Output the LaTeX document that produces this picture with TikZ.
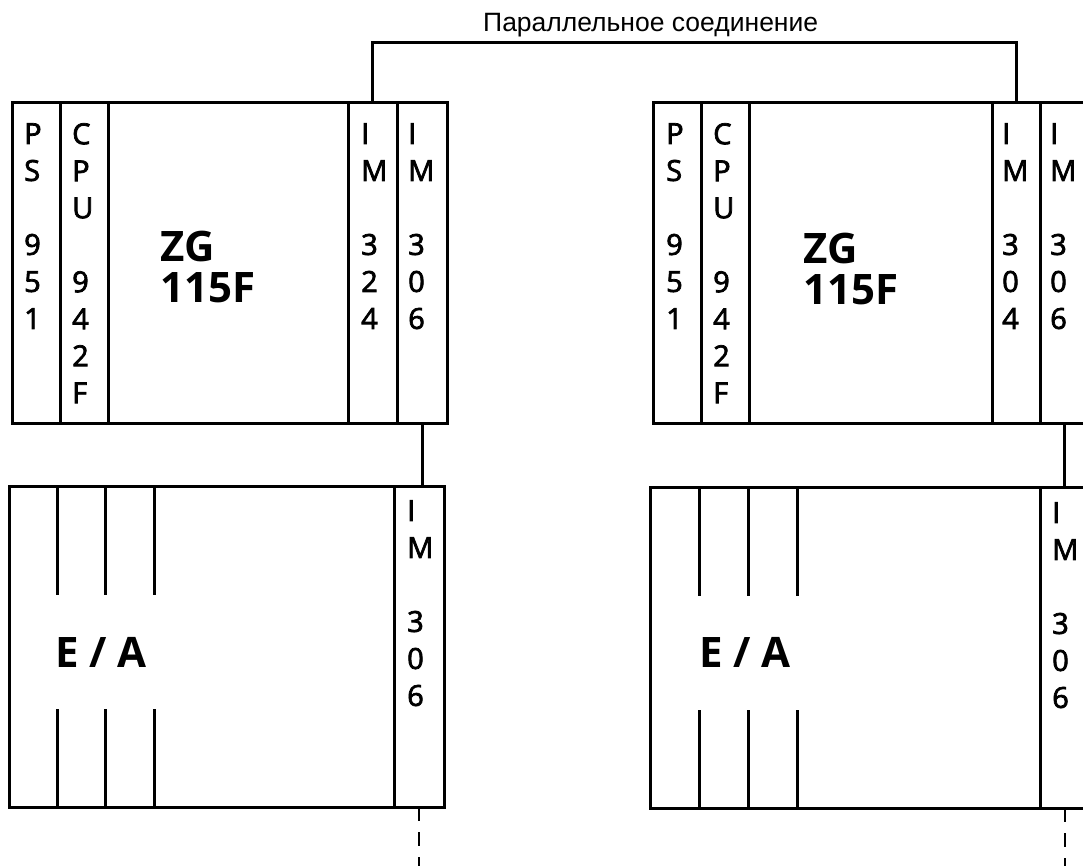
\documentclass[tikz,border=0pt]{standalone}
\usepackage{fontspec}
\setmainfont{Liberation Sans}
\newfontfamily\modfont[FakeBold=2.5]{Open Sans}
\newfontfamily\namefont{Open Sans}
\usepackage{tikz}
\usetikzlibrary{positioning,calc}
\definecolor{ink}{HTML}{000000}
\tikzset{
  slot/.style={
    rectangle,
    draw=ink,
    line width=3pt,
    inner sep=0pt,
    outer sep=0pt,
    minimum height=320pt
  },
  ioslot/.style={slot, minimum height=321pt},
  modlabel/.style={
    font=\modfont\fontsize{29}{37}\selectfont,
    align=left,
    anchor=north west,
    inner sep=0pt,
    text=ink
  },
  rackname/.style={
    font=\namefont\bfseries\fontsize{42}{41}\selectfont,
    align=left,
    anchor=north west,
    inner sep=0pt,
    text=ink
  },
  link/.style={draw=ink, line width=3pt},
  extlink/.style={link, line width=2.6pt, dash pattern=on 14pt off 11pt}
}

\begin{document}
\begin{tikzpicture}[x=1pt, y=-1pt]
\useasboundingbox (0,0) rectangle (1083,866);
\clip (0,0) rectangle (1083,866);

% ---- Left central rack ----
\node[slot, minimum width=48pt, anchor=north west] (psL) at (12,103) {};
\node[slot, minimum width=48pt, right=0pt of psL] (cpuL) {};
\node[slot, minimum width=240pt, right=0pt of cpuL] (zgL) {};
\node[slot, minimum width=49pt, right=0pt of zgL] (imaL) {};
\node[slot, minimum width=50pt, right=0pt of imaL] (imbL) {};

\node[modlabel] (psLtxt) at ($(psL.north west)+(12,20)$) {P\\S\\[37pt]9\\5\\1};
\node[modlabel] (cpuLtxt) at ($(cpuL.north west)+(12,20)$) {C\\P\\U\\[37pt]9\\4\\2\\F};
\node[rackname] (zgLtxt) at ($(zgL.north west)+(52,128)$) {ZG\\115F};
\node[modlabel] (imaLtxt) at ($(imaL.north west)+(13,20)$) {I\\M\\[37pt]3\\2\\4};
\node[modlabel] (imbLtxt) at ($(imbL.north west)+(11,20)$) {I\\M\\[37pt]3\\0\\6};

% ---- Left I/O rack ----
\node[ioslot, minimum width=385pt, anchor=north west] (eaL) at (9,486) {};
\node[ioslot, minimum width=50pt, right=0pt of eaL] (imcL) {};

\draw[link] ($(eaL.north west)+(48,0)$) -- ++(0,109);
\draw[link] ($(eaL.north west)+(96,0)$) -- ++(0,109);
\draw[link] ($(eaL.north west)+(145,0)$) -- ++(0,109);
\draw[link] ($(eaL.south west)+(48,0)$) -- ++(0,-98);
\draw[link] ($(eaL.south west)+(96,0)$) -- ++(0,-98);
\draw[link] ($(eaL.south west)+(145,0)$) -- ++(0,-98);

\node[rackname, anchor=base west] (eaLtxt) at (55,667) {E / A};
\node[modlabel] (imcLtxt) at ($(imcL.north west)+(13,14)$) {I\\M\\[37pt]3\\0\\6};

% ---- Right central rack ----
\node[slot, minimum width=48pt, anchor=north west] (psR) at (653,103) {};
\node[slot, minimum width=48pt, right=0pt of psR] (cpuR) {};
\node[slot, minimum width=243pt, right=0pt of cpuR] (zgR) {};
\node[slot, minimum width=48pt, right=0pt of zgR] (imaR) {};
\node[slot, minimum width=49pt, right=0pt of imaR] (imbR) {};

\node[modlabel] (psRtxt) at ($(psR.north west)+(13,20)$) {P\\S\\[37pt]9\\5\\1};
\node[modlabel] (cpuRtxt) at ($(cpuR.north west)+(12,20)$) {C\\P\\U\\[37pt]9\\4\\2\\F};
\node[rackname] (zgRtxt) at ($(zgR.north west)+(54,130)$) {ZG\\115F};
\node[modlabel] (imaRtxt) at ($(imaR.north west)+(10,20)$) {I\\M\\[37pt]3\\0\\4};
\node[modlabel] (imbRtxt) at ($(imbR.north west)+(10,20)$) {I\\M\\[37pt]3\\0\\6};

% ---- Right I/O rack ----
\node[ioslot, minimum width=390pt, anchor=north west] (eaR) at (650,487) {};
\node[ioslot, minimum width=50pt, right=0pt of eaR] (imcR) {};

\draw[link] ($(eaR.north west)+(49,0)$) -- ++(0,109);
\draw[link] ($(eaR.north west)+(98,0)$) -- ++(0,109);
\draw[link] ($(eaR.north west)+(147,0)$) -- ++(0,109);
\draw[link] ($(eaR.south west)+(49,0)$) -- ++(0,-98);
\draw[link] ($(eaR.south west)+(98,0)$) -- ++(0,-98);
\draw[link] ($(eaR.south west)+(147,0)$) -- ++(0,-98);

\node[rackname, anchor=base west] (eaRtxt) at (699,667) {E / A};
\node[modlabel] (imcRtxt) at ($(imcR.north west)+(12,15)$) {I\\M\\[37pt]3\\0\\6};

% ---- Connections ----
\node[font=\fontsize{26.5}{30}\selectfont, anchor=base west, inner sep=0pt, text=ink]
  (parlabel) at (483,32) {Параллельное соединение};
\draw[link] (imaL.north) -- ++(0,-60) -| (imaR.north);

\draw[link] (imbL.south) -- (imbL.south |- imcL.north);
\draw[link] (imbR.south) -- (imbR.south |- imcR.north);

% Bus continues to further I/O racks.
\coordinate (endL) at ($(imcL.south)+(0,62)$);
\coordinate (endR) at ($(imcR.south)+(0,62)$);
\draw[extlink] (imcL.south) -- (endL);
\draw[extlink] (imcR.south) -- (endR);

\end{tikzpicture}
\end{document}
